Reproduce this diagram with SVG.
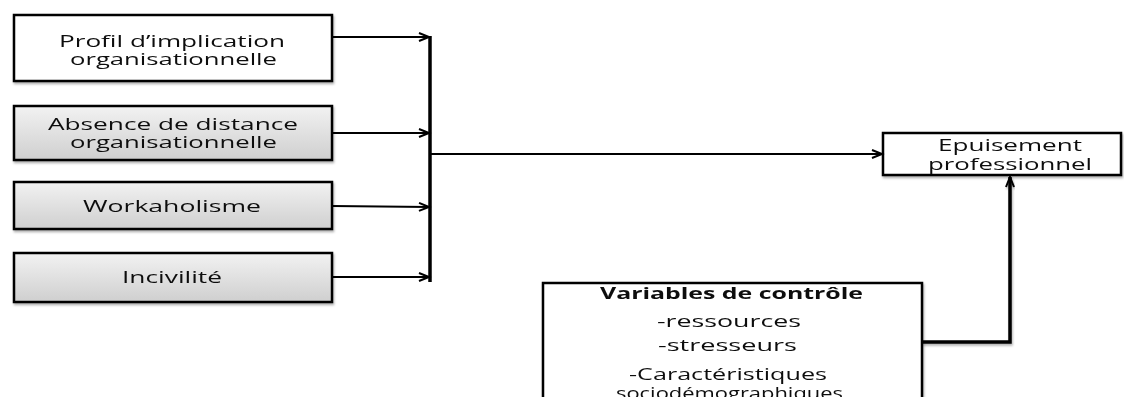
<svg xmlns="http://www.w3.org/2000/svg" width="1124" height="397" viewBox="0 0 1124 397">
<style>
.box{stroke:#000;stroke-width:2.5}
.w{fill:#fff}
.g{fill:url(#grad)}
text{font-family:"Open Sans","DejaVu Sans",sans-serif;font-size:16px;fill:#111}
.b{font-weight:bold}
.c{stroke:#000;stroke-width:2;fill:none}
.bar{stroke:#000;stroke-width:3.5;fill:none}
</style>
<defs>
<linearGradient id="grad" x1="0" y1="0" x2="0" y2="1">
<stop offset="0" stop-color="#f2f2f2"/>
<stop offset="1" stop-color="#cfcfcf"/>
</linearGradient>
<filter id="sh" x="-5%" y="-10%" width="110%" height="130%">
<feDropShadow dx="1" dy="2" stdDeviation="1.2" flood-color="#000" flood-opacity="0.3"/>
</filter>
<marker id="arr" markerUnits="userSpaceOnUse" markerWidth="14" markerHeight="12" refX="11" refY="5" orient="auto">
<path d="M1,1 L11,5 L1,9" fill="none" stroke="#000" stroke-width="2"/>
</marker>
</defs>

<g id="n1" filter="url(#sh)">
<rect class="box w" x="14" y="15" width="318" height="66"/>
<text x="59" y="47" textLength="226" lengthAdjust="spacingAndGlyphs">Profil d’implication</text>
<text x="70" y="65" textLength="207" lengthAdjust="spacingAndGlyphs">organisationnelle</text>
</g>
<g id="n2" filter="url(#sh)">
<rect class="box g" x="14" y="106" width="318" height="54"/>
<text x="48" y="130" textLength="250" lengthAdjust="spacingAndGlyphs">Absence de distance</text>
<text x="70" y="148" textLength="207" lengthAdjust="spacingAndGlyphs">organisationnelle</text>
</g>
<g id="n3" filter="url(#sh)">
<rect class="box g" x="14" y="182" width="318" height="47"/>
<text x="83" y="212" textLength="178" lengthAdjust="spacingAndGlyphs">Workaholisme</text>
</g>
<g id="n4" filter="url(#sh)">
<rect class="box g" x="14" y="253" width="318" height="49"/>
<text x="122" y="283" textLength="100" lengthAdjust="spacingAndGlyphs">Incivilité</text>
</g>
<g id="n5" filter="url(#sh)">
<rect class="box w" x="883" y="133" width="238" height="42"/>
<text x="938" y="151" textLength="144" lengthAdjust="spacingAndGlyphs">Epuisement</text>
<text x="928" y="170" textLength="164" lengthAdjust="spacingAndGlyphs">professionnel</text>
</g>
<g id="n6" filter="url(#sh)">
<rect class="box w" x="543" y="283" width="379" height="130" stroke-width="3"/>
<text class="b" x="600" y="299" textLength="263" lengthAdjust="spacingAndGlyphs">Variables de contrôle</text>
<text x="657" y="327" textLength="144" lengthAdjust="spacingAndGlyphs">-ressources</text>
<text x="658" y="351" textLength="139" lengthAdjust="spacingAndGlyphs">-stresseurs</text>
<text x="629" y="380" textLength="198" lengthAdjust="spacingAndGlyphs">-Caractéristiques</text>
<text x="616" y="399" textLength="227" lengthAdjust="spacingAndGlyphs">sociodémographiques</text>
</g>

<g id="connectors">
<line class="c" x1="332" y1="37" x2="429" y2="37" marker-end="url(#arr)"/>
<line class="c" x1="332" y1="133" x2="429" y2="133" marker-end="url(#arr)"/>
<line class="c" x1="332" y1="206" x2="429" y2="207" marker-end="url(#arr)"/>
<line class="c" x1="332" y1="277" x2="429" y2="277" marker-end="url(#arr)"/>
<line class="bar" x1="430" y1="36" x2="430" y2="282"/>
<line class="c" x1="430" y1="154" x2="882" y2="154" marker-end="url(#arr)"/>
<polyline class="bar" filter="url(#sh)" points="922,342 1010,342 1010,177" marker-end="url(#arr)"/>
</g>
</svg>
